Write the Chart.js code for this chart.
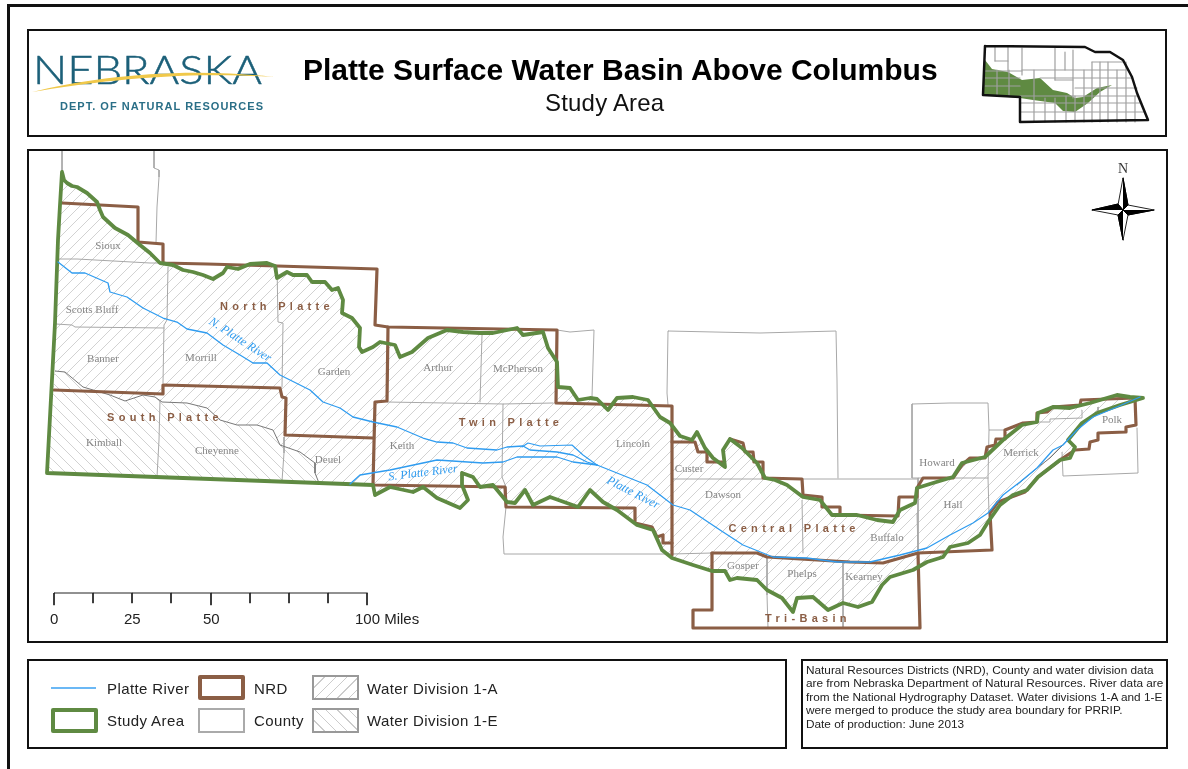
<!DOCTYPE html>
<html>
<head>
<meta charset="utf-8">
<title>Platte Surface Water Basin Above Columbus</title>
<script src="https://cdn.jsdelivr.net/npm/chart.js@4"></script>
<style>
  html, body { margin: 0; padding: 0; background: #fff; overflow: hidden; }
  #page { position: relative; width: 1188px; height: 769px; overflow: hidden; font-family: "Liberation Sans", Arial, sans-serif; color: #222; }
  #map { position: absolute; left: 0; top: 0; }
  .frame { position: absolute; border: 2px solid #111; box-sizing: border-box; }
  .txt { position: absolute; white-space: nowrap; line-height: 1; }
  .swatch { position: absolute; box-sizing: border-box; width: 47px; height: 25px; }
  .hatch { border: 2px solid #999; }
  .leg { font-size: 15px; letter-spacing: 0.4px; color: #222; }
  .note { font-size: 11.8px; color: #222; }
  .scale { font-size: 15px; color: #222; }
  .frame, .txt, .swatch, svg { z-index: 2; }
</style>
</head>
<body>
<div id="page">
  <div class="frame" style="left:7px;top:4px;width:1200px;height:800px;border-width:3px"></div>
  <div class="frame" style="left:27px;top:29px;width:1140px;height:108px"></div>
  <div class="frame" style="left:27px;top:149px;width:1141px;height:494px"></div>
  <div class="frame" style="left:27px;top:659px;width:760px;height:90px"></div>
  <div class="frame" style="left:801px;top:659px;width:367px;height:90px"></div>

  <svg style="position:absolute;left:28px;top:50px" width="250" height="68">
    <text x="5" y="34" font-family="Lato, Roboto" font-weight="300" font-size="40" fill="#1c6079" stroke="#1c6079" stroke-width="0.5" textLength="229" lengthAdjust="spacingAndGlyphs">NEBRASKA</text>
    <path d="M4 42 C60 28 150 16 247 27 C150 21 70 31 4 42 Z" fill="#f0c84a"/>
    <text x="32" y="60" font-family="Liberation Sans" font-weight="700" font-size="11" fill="#2a6f87" textLength="203">DEPT. OF NATURAL RESOURCES</text>
  </svg>

  <div class="txt" style="left:303px;top:55px;font-size:30px;font-weight:700;color:#000">Platte Surface Water Basin Above Columbus</div>
  <div class="txt" style="left:545px;top:91px;font-size:24px;letter-spacing:0.2px;color:#111">Study Area</div>

  <div class="txt scale" style="left:50px;top:611px">0</div>
  <div class="txt scale" style="left:124px;top:611px">25</div>
  <div class="txt scale" style="left:203px;top:611px">50</div>
  <div class="txt scale" style="left:355px;top:611px">100 Miles</div>

  <div class="swatch" style="left:51px;top:675px;height:26px"><div style="position:absolute;left:0;right:2px;top:12px;height:2px;background:#6bb8f5"></div></div>
  <div class="swatch" style="left:198px;top:675px;border:4px solid #8b5e45;border-radius:2px"></div>
  <div class="swatch" style="left:198px;top:708px;border:2px solid #aaa"></div>
  <div class="swatch" style="left:51px;top:708px;border:4px solid #5f8a42;border-radius:2px"></div>
  <div class="swatch hatch" style="left:312px;top:675px;background:repeating-linear-gradient(135deg,#fff 0 7px,#ccc 7px 8px)"></div>
  <div class="swatch hatch" style="left:312px;top:708px;background:repeating-linear-gradient(45deg,#fff 0 7px,#ccc 7px 8px)"></div>
  <div class="txt leg" style="left:107px;top:681px">Platte River</div>
  <div class="txt leg" style="left:107px;top:713px">Study Area</div>
  <div class="txt leg" style="left:254px;top:681px">NRD</div>
  <div class="txt leg" style="left:254px;top:713px">County</div>
  <div class="txt leg" style="left:367px;top:681px">Water Division 1-A</div>
  <div class="txt leg" style="left:367px;top:713px">Water Division 1-E</div>

  <div class="txt note" style="left:806px;top:665px">Natural Resources Districts (NRD), County and water division data</div>
  <div class="txt note" style="left:806px;top:678px">are from Nebraska Department of Natural Resources. River data are</div>
  <div class="txt note" style="left:806px;top:692px">from the National Hydrography Dataset. Water divisions 1-A and 1-E</div>
  <div class="txt note" style="left:806px;top:705px">were merged to produce the study area boundary for PRRIP.</div>
  <div class="txt note" style="left:806px;top:719px">Date of production: June 2013</div>

  <canvas id="map" width="1188" height="769"></canvas>
</div>
<script>
// all positions are in map units, which are the reference picture's pixels
const studyArea = [[62,172],[64,180],[67,183],[72,186],[77,187],[87,193],[97,202],[100,210],[103,217],[115,228],[128,235],[140,245],[150,253],[160,263],[173,265],[183,270],[193,272],[203,275],[213,279],[223,273],[227,267],[238,269],[250,264],[267,263],[275,266],[277,278],[287,272],[293,275],[307,275],[312,282],[325,282],[332,290],[338,288],[343,300],[342,313],[352,318],[360,328],[359,347],[362,352],[373,347],[380,342],[395,345],[400,357],[412,352],[428,338],[447,330],[463,332],[480,333],[493,333],[517,328],[523,335],[543,332],[548,348],[557,362],[558,387],[570,388],[578,400],[590,398],[597,399],[608,410],[617,398],[633,397],[648,400],[660,417],[670,423],[680,436],[692,440],[697,432],[705,448],[713,458],[725,467],[723,450],[730,439],[742,448],[757,463],[765,478],[775,480],[787,485],[803,497],[820,500],[832,515],[857,515],[877,520],[893,522],[900,510],[915,503],[917,488],[933,483],[953,477],[962,463],[985,457],[1003,440],[1022,425],[1037,422],[1038,413],[1053,407],[1070,408],[1090,403],[1117,395],[1130,397],[1143,398],[1120,405],[1097,413],[1082,423],[1068,440],[1075,447],[1070,458],[1060,460],[1038,477],[1027,490],[1013,495],[1000,505],[988,522],[980,535],[968,543],[950,547],[943,557],[927,562],[913,570],[890,577],[882,585],[872,602],[858,607],[843,603],[828,610],[813,597],[797,598],[793,612],[782,598],[767,590],[757,580],[737,578],[730,580],[725,571],[712,571],[693,565],[672,558],[662,550],[653,530],[637,525],[617,510],[603,502],[590,490],[578,507],[550,497],[533,505],[525,490],[515,503],[507,502],[493,485],[480,487],[473,477],[462,473],[462,485],[468,500],[460,508],[437,498],[423,487],[413,492],[390,487],[375,495],[373,485],[319,483],[47,473],[55,323],[58,240],[60,205],[62,172]];
const divisionLine = [[55,371],[65,372],[83,387],[110,395],[125,401],[143,395],[155,397],[162,402],[187,403],[207,408],[220,420],[237,425],[257,425],[273,430],[280,445],[300,452],[315,463],[315,473],[319,483]];
const divisionLineEast = [[1017,485],[1037,468],[1050,458],[1063,445]];

const riverNorth = [[58,262],[72,273],[85,273],[108,283],[110,292],[127,297],[143,308],[163,318],[177,322],[187,329],[207,333],[223,345],[240,355],[253,363],[267,363],[280,375],[310,390],[323,402],[340,408],[353,417],[373,422],[397,427],[423,438],[437,442],[453,443],[467,448],[497,450],[507,447],[523,446],[530,450],[557,452],[573,455],[587,462],[597,465]];
const riverSouth = [[350,484],[360,475],[390,470],[437,460],[483,463],[503,462],[517,457],[557,457],[573,462],[597,465]];
const riverBraid = [[522,447],[528,443],[540,446],[572,445],[583,455],[597,465]];
const riverMain = [[597,465],[617,473],[647,485],[673,505],[690,510],[720,530],[743,545],[773,557],[807,558],[837,562],[870,562],[900,555],[927,548],[950,535],[973,523],[988,513],[1003,495],[1020,482],[1037,468],[1053,450],[1063,445],[1077,430],[1093,417],[1117,407],[1140,397]];

const nrdNorthPlatte = [[62,203],[100,205],[138,207],[138,242],[163,244],[163,263],[207,264],[277,266],[377,269],[375,325],[388,327],[557,330],[556,403],[672,406],[672,555]];
const nrdSouthPlatte = [[54,390],[163,394],[163,385],[280,388],[282,397],[286,398],[285,435],[373,438]];
const nrdTwinPlatte = [[388,327],[387,401],[375,402],[373,485],[505,487],[506,507],[635,508],[635,523],[652,527],[657,537],[663,535],[663,543],[672,543]];
const nrdCentralPlatte = [[672,442],[695,442],[698,452],[707,452],[707,462],[722,462]];
const nrdCentralNorth = [[730,439],[743,443],[745,452],[753,452],[754,462],[763,462],[763,478],[802,479],[803,495],[822,497],[822,507],[840,507],[840,515],[898,516],[899,497],[917,497],[917,488],[923,478],[953,478],[962,465],[970,458],[985,458],[987,447],[995,445],[996,439],[1005,439],[1005,430],[1023,423],[1037,422],[1037,413],[1047,412],[1053,407],[1080,405],[1081,400],[1135,398],[1136,425],[1126,427],[1126,432],[1098,433],[1098,440],[1090,442],[1089,449],[1075,450],[1063,458],[1038,477],[1025,492],[998,502],[990,513],[992,550],[918,553],[883,563],[850,562],[817,560],[767,557],[757,553],[712,553]];
const nrdTriBasin = [[712,553],[712,610],[693,610],[693,628],[920,628],[918,553]];

const countyLines = [
  [[62,150],[62,172]],
  [[154,150],[154,168],[159,170],[159,177],[157,207],[156,243]],
  [[58,259],[77,259],[150,263],[163,263]],
  [[168,267],[167,320],[164,325],[163,383]],
  [[56,324],[72,325],[75,327],[164,328]],
  [[277,266],[278,322],[283,323],[282,387]],
  [[160,400],[159,440],[157,477]],
  [[284,437],[284,453],[282,481]],
  [[482,335],[480,402]],
  [[387,402],[503,404],[553,403]],
  [[503,404],[502,477],[506,487],[506,507],[503,537],[504,554],[672,554],[712,553]],
  [[557,330],[570,332],[594,330],[592,397]],
  [[668,331],[667,393],[668,405]],
  [[668,331],[760,333],[836,331],[837,380],[838,478]],
  [[672,479],[763,479],[804,479],[863,479],[917,479]],
  [[802,500],[803,553]],
  [[767,557],[767,595],[768,628]],
  [[843,563],[843,628]],
  [[917,513],[918,553]],
  [[912,404],[950,403],[988,403],[989,430],[1005,430]],
  [[912,404],[912,478],[988,478]],
  [[989,430],[988,478],[989,513]],
  [[918,478],[918,550]],
  [[1037,422],[1050,422],[1050,419],[1082,418],[1082,410]],
  [[1098,407],[1098,413]],
  [[1062,452],[1063,476],[1138,473],[1137,428]]
];

const insetOutline = [[985,46],[1085,47],[1095,52],[1110,52],[1123,60],[1132,77],[1137,93],[1148,120],[1020,122],[1020,97],[983,95],[985,46]];
const insetStudy = [[985,60],[992,69],[1008,72],[1022,80],[1040,78],[1053,90],[1067,93],[1075,98],[1083,97],[1097,88],[1112,85],[1100,92],[1088,103],[1075,112],[1063,111],[1055,103],[1033,100],[1020,98],[983,95],[985,60]];
const insetCounties = [
  [[995,47],[995,61]], [[1008,47],[1008,72]], [[1022,48],[1022,75]], [[1055,47],[1055,80]],
  [[1065,52],[1065,70]], [[1073,50],[1073,98]], [[995,61],[1008,61]], [[985,71],[1022,71]],
  [[985,78],[1020,78]], [[985,86],[1020,86]], [[997,70],[997,95]], [[1009,70],[1009,96]],
  [[1022,70],[1128,70]], [[1040,78],[1132,78]], [[1075,88],[1137,88]], [[1092,62],[1125,62]],
  [[1020,96],[1138,96]], [[1020,103],[1140,103]], [[1020,112],[1145,112]], [[1055,80],[1073,80]],
  [[1034,70],[1034,122]], [[1045,98],[1045,122]], [[1055,98],[1055,122]], [[1066,96],[1066,122]],
  [[1075,96],[1075,122]], [[1084,70],[1084,122]], [[1092,62],[1092,122]], [[1100,62],[1100,122]],
  [[1108,62],[1108,122]], [[1117,70],[1117,122]], [[1126,62],[1126,122]], [[1135,96],[1135,122]]
];

const compassBlack = [
  [[1123,178],[1128,205],[1123,210]],
  [[1123,210],[1118,215],[1123,240]],
  [[1092,210],[1118,204],[1123,210]],
  [[1123,210],[1128,215],[1154,210]]
];
const compassOutline = [
  [[1123,178],[1128,205],[1123,210],[1118,205],[1123,178]],
  [[1123,240],[1128,215],[1123,210],[1118,215],[1123,240]],
  [[1092,210],[1118,215],[1123,210],[1118,204],[1092,210]],
  [[1154,210],[1128,205],[1123,210],[1128,215],[1154,210]]
];

const scaleBarLine = [[54,593],[367,593]];
const scaleTicks = [[54,605],[93,603],[132,603],[171,603],[211,605],[250,603],[289,603],[328,603],[367,605]];

const countyNames = ['Sioux','Scotts Bluff','Banner','Morrill','Garden','Kimball','Cheyenne','Deuel','Keith','Arthur','McPherson','Lincoln','Custer','Dawson','Gosper','Phelps','Kearney','Buffalo','Hall','Howard','Merrick','Polk'];
const countyLabelX = [108,92,103,201,334,104,217,328,402,438,518,633,689,723,743,802,864,887,953,937,1021,1112];
const countyLabelY = [246,310,359,358,372,443,451,460,446,368,369,444,469,495,566,574,577,538,505,463,453,420];

const nrdNames = ['North Platte','South Platte','Twin Platte','Central Platte','Tri-Basin'];
const nrdLabelX = [277,165,511,794,808];
const nrdLabelY = [307,418,423,529,619];

const riverNames = ['N. Platte River','S. Platte River','Platte River'];
const riverLabelX = [240,423,633];
const riverLabelY = [340,473,493];
const riverLabelAngle = [33,-7,27];

const GREEN = '#5f8a42';
const BROWN = '#8b5e45';
const RIVER = '#2f9cf0';
const COUNTY = '#a8a8a8';

function hatchPattern(forward, withWhite) {
    const size = 11;
    const tile = document.createElement('canvas');
    tile.width = size;
    tile.height = size;
    const c = tile.getContext('2d');
    if (withWhite) {
        c.fillStyle = '#fff';
        c.fillRect(0, 0, size, size);
    }
    c.strokeStyle = '#d2d2d2';
    c.lineWidth = 1;
    for (const shift of [-size, 0, size]) {
        c.beginPath();
        if (forward) {
            c.moveTo(shift, size);
            c.lineTo(shift + size, 0);
        } else {
            c.moveTo(shift, 0);
            c.lineTo(shift + size, size);
        }
        c.stroke();
    }
    return c.createPattern(tile, 'repeat');
}

function lineSet(points, color, width) {
    return { data: points, borderColor: color, borderWidth: width, showLine: true, pointRadius: 0, fill: false, tension: 0, borderJoinStyle: 'round', borderCapStyle: 'round' };
}

function shapeSet(points, background, border, width) {
    return { data: points, backgroundColor: background, borderColor: border, borderWidth: width, showLine: true, pointRadius: 0, fill: 'shape', tension: 0 };
}

const tickSets = scaleTicks.map(t => lineSet([[t[0], 593], t], '#222', 1));

// first dataset is drawn on top
const datasets = [
    ...compassBlack.map(p => shapeSet(p, '#000', '#000', 1)),
    ...compassOutline.map(p => lineSet(p, '#222', 1)),
    lineSet(scaleBarLine, '#222', 1),
    ...tickSets,
    lineSet(insetOutline, '#111', 2.5),
    ...insetCounties.map(p => lineSet(p, '#a0a0a0', 1.2)),
    shapeSet(insetStudy, '#5f8a42', '#5f8a42', 0),
    lineSet(riverMain, RIVER, 1.3),
    lineSet(riverNorth, RIVER, 1.3),
    lineSet(riverSouth, RIVER, 1.3),
    lineSet(riverBraid, RIVER, 1.1),
    lineSet(studyArea, GREEN, 3.8),
    lineSet(nrdNorthPlatte, BROWN, 3.2),
    lineSet(nrdSouthPlatte, BROWN, 3.2),
    lineSet(nrdTwinPlatte, BROWN, 3.2),
    lineSet(nrdCentralPlatte, BROWN, 3.2),
    lineSet(nrdCentralNorth, BROWN, 3.2),
    lineSet(nrdTriBasin, BROWN, 3.2),
    lineSet(divisionLine, '#777', 1),
    lineSet(divisionLineEast, '#777', 1),
    ...countyLines.map(p => lineSet(p, COUNTY, 1)),
    shapeSet(divisionLine.concat([[47,473],[55,371]]), hatchPattern(false, true), 'rgba(0,0,0,0)', 0),
    shapeSet(studyArea, hatchPattern(true, false), 'rgba(0,0,0,0)', 0)
];

// county, district and river names sit on the map through the same scales
const mapLabels = {
    id: 'mapLabels',
    afterDatasetsDraw(chart) {
        const { ctx, scales: { x, y } } = chart;
        ctx.save();
        ctx.textAlign = 'center';
        ctx.textBaseline = 'middle';

        ctx.font = '11px "Liberation Serif"';
        ctx.fillStyle = '#858585';
        countyNames.forEach((name, i) => {
            ctx.fillText(name, x.getPixelForValue(countyLabelX[i]), y.getPixelForValue(countyLabelY[i]));
        });

        ctx.font = 'bold 11px "Liberation Sans"';
        ctx.letterSpacing = '4.3px';
        ctx.fillStyle = BROWN;
        nrdNames.forEach((name, i) => {
            ctx.fillText(name, x.getPixelForValue(nrdLabelX[i]), y.getPixelForValue(nrdLabelY[i]));
        });
        ctx.letterSpacing = '0px';

        ctx.font = 'italic 12px "Liberation Serif"';
        ctx.fillStyle = RIVER;
        riverNames.forEach((name, i) => {
            ctx.save();
            ctx.translate(x.getPixelForValue(riverLabelX[i]), y.getPixelForValue(riverLabelY[i]));
            ctx.rotate(riverLabelAngle[i] * Math.PI / 180);
            ctx.fillText(name, 0, 0);
            ctx.restore();
        });

        ctx.font = '14px "Liberation Serif"';
        ctx.fillStyle = '#333';
        ctx.fillText('N', x.getPixelForValue(1123), y.getPixelForValue(169));
        ctx.restore();
    }
};

new Chart(document.getElementById('map'), {
    type: 'scatter',
    data: { datasets },
    plugins: [mapLabels],
    options: {
        responsive: false,
        animation: false,
        events: [],
        layout: { padding: 0 },
        plugins: { legend: { display: false }, tooltip: { enabled: false } },
        scales: {
            x: { type: 'linear', min: 0, max: 1188, display: false },
            y: { type: 'linear', min: 0, max: 769, reverse: true, display: false }
        }
    }
});
</script>
</body>
</html>
